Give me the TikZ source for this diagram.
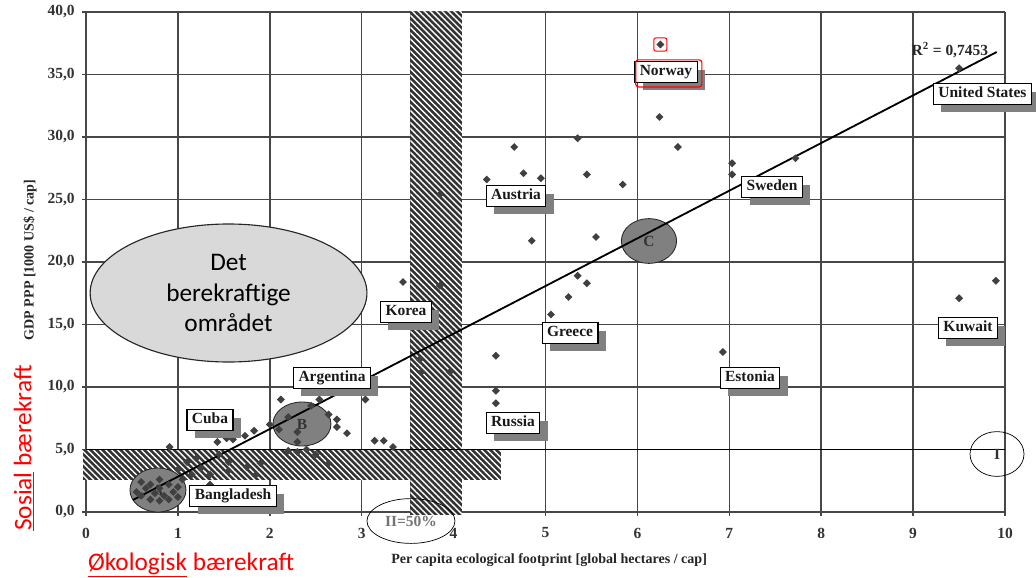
\documentclass[tikz,border=0pt]{standalone}
\usepackage{fontspec}
\setmainfont{Liberation Serif}
\newfontfamily\calibri{Carlito}
\usetikzlibrary{shapes.geometric,shadows,patterns.meta}

\begin{document}
\begin{tikzpicture}
	[x=2.2975cm,y=0.3125cm,
	grid line/.style={black!72,line width=1.1pt},
	hatch band/.style={fill=black!80,postaction={pattern={Lines[angle=-45,distance=3pt,line width=1pt]},pattern color=white}},
	tick label/.style={font=\fontsize{11}{13}\selectfont\bfseries,text=black!80,inner sep=0pt},
	axis title/.style={font=\fontsize{10}{12}\selectfont\bfseries,text=black!85},
	red title/.style={font=\calibri\fontsize{18}{22}\selectfont,text=red},
	country/.style={draw=black,line width=0.8pt,fill=white,text=black!90,font=\fontsize{11}{13}\selectfont\bfseries,inner xsep=3.5pt,inner ysep=2.5pt,text height=7.5pt,text depth=2pt,drop shadow={shadow xshift=5.5pt,shadow yshift=-5.5pt,fill=black!50,opacity=1}},
	zone/.style={ellipse,draw=black!85,fill=black!50,line width=0.6pt,inner sep=0pt,minimum width=1.4cm,minimum height=1.1cm,text=black!80,font=\fontsize{11}{13}\selectfont\bfseries},
	ring/.style={ellipse,draw=black,line width=0.5pt,inner sep=0pt,minimum height=1.12cm,font=\fontsize{11}{13}\selectfont\bfseries},
	gdp dot/.style={fill=black!75}]
	\useasboundingbox (-0.9358,-5.2) rectangle (10.3373,40.96);
	% grid and ticks
	\foreach \gx in {0,...,10}
		\draw[grid line] (\gx,-0.3) -- (\gx,40);
	\foreach \gy in {0,5,...,40}
		\draw[grid line] (-0.045,\gy) -- (10,\gy);
	\foreach \gy in {0,5,...,40}
		\node[tick label,anchor=east] (ytick\gy) at (-0.12,\gy) {\gy,0};
	\foreach \gx in {0,...,10}
		\node[tick label] (xtick\gx) at (\gx,-1.68) {\gx};
	% hatched limits
	\fill[hatch band] (-0.03,2.56) rectangle (4.52,5);
	\fill[hatch band] (3.53,-0.25) rectangle (4.09,40);
	\draw[black,line width=1.3pt] (0,5) -- (10,5);
	% zones
	\node[ellipse,draw=black!85,fill=black!15,line width=0.8pt,minimum width=6.92cm,minimum height=3.45cm,align=center,font=\calibri\fontsize{18}{22}\selectfont] (sustainable) at (1.551,17.52) {Det\\berekraftige\\området};
	\node[zone] (zoneA) at (0.783,1.76) {A};
	\node[zone,minimum width=1.45cm] (zoneB) at (2.35,7.04) {B};
	\node[zone,minimum width=1.38cm,minimum height=1.12cm] (zoneC) at (6.126,21.68) {C};
	% regression
	\coordinate (trendstart) at (0.51,0.96);
	\coordinate (trendend) at (9.91,36.8);
	\draw[black,line width=1.3pt] (trendstart) -- (trendend);
	\node[font=\fontsize{11}{13}\selectfont\bfseries,text=black!85] (rsq) at (9.40,36.96) {R\textsuperscript{2} = 0,7453};
	% countries
	\foreach \px/\py in {6.25/37.4,9.50/35.5,6.24/31.6,5.35/29.9,4.66/29.2,6.44/29.2,4.76/27.1,4.95/26.7,5.45/27.0,5.84/26.2,
		7.03/27.9,7.03/27.0,7.72/28.3,4.36/26.6,3.85/25.4,4.85/21.7,5.55/22.0,5.35/18.9,5.45/18.3,5.25/17.2,
		9.90/18.5,9.50/17.1,3.45/18.4,3.85/18.1,5.06/15.8,4.46/12.5,4.46/9.7,4.46/8.7,6.93/12.8,3.63/12.2,
		3.96/11.2,3.65/11.2,3.04/9.0,3.14/5.7,3.24/5.7,3.34/5.2,
		2.12/9.0,2.54/9.0,2.64/7.8,2.73/7.4,2.73/6.8,2.84/6.3,2.0/7.0,2.1/6.6,2.3/6.4,2.3/5.6,2.3/4.8,2.2/4.9,
		2.4/5.0,2.5/4.6,2.64/3.9,2.45/8.5,2.2/7.6,
		1.31/6.3,1.43/5.6,1.53/5.9,1.63/7.2,1.63/6.3,1.73/6.1,1.83/6.5,1.6/5.8,
		1.2/4.3,1.25/3.5,1.35/3.0,1.45/4.6,1.55/4.0,1.55/3.3,1.75/3.6,1.85/3.0,1.9/3.9,1.1/4.0,0.91/5.2,1.0/3.4,
		1.15/3.0,1.35/2.2,
		0.55/1.6,0.6/1.3,0.65/1.9,0.7/1.0,0.7/2.2,0.75/1.5,0.8/0.9,0.8/1.9,0.8/2.6,0.85/1.3,0.9/1.0,0.9/2.2,
		0.95/1.6,1.0/1.2,1.0/2.0,1.05/2.6,0.6/2.4}
		\fill[gdp dot] (\px,\py) +(0,2.8pt) -- +(2.8pt,0) -- +(0,-2.8pt) -- +(-2.8pt,0) -- cycle;
	\node[country] (norway) at (6.311,35.2) {Norway};
	\node[country,anchor=west] (usa) at (9.216,33.44) {United States};
	\node[country] (sweden) at (7.465,26.0) {Sweden};
	\node[country] (austria) at (4.679,25.28) {Austria};
	\node[country] (korea) at (3.482,16.0) {Korea};
	\node[country] (argentina) at (2.677,10.72) {Argentina};
	\node[country] (cuba) at (1.349,7.36) {Cuba};
	\node[country] (bangladesh) at (1.600,1.28) {Bangladesh};
	\node[country] (russia) at (4.646,7.12) {Russia};
	\node[country] (greece) at (5.267,14.32) {Greece};
	\node[country] (estonia) at (7.225,10.72) {Estonia};
	\node[country] (kuwait) at (9.597,14.72) {Kuwait};
	% red marks on Norway
	\coordinate (normark) at (6.25,37.4);
	\node[draw=red,rounded corners=1.5pt,line width=0.7pt,minimum size=0.33cm,inner sep=0pt] (redmark) at (normark) {};
	\draw[red,rounded corners=2pt,line width=0.8pt] ([xshift=1pt,yshift=1pt]norway.north west) rectangle ([xshift=3pt,yshift=-3pt]norway.south east);
	% halves
	\node[ring,minimum width=2.2cm,text=black!55] (half) at (3.536,-0.72) {II=50\%};
	\node[ring,minimum width=1.35cm,text=black!80] (one) at (9.913,4.64) {I};
	% titles
	\node[axis title] (xtitle) at (5.04,-3.84) {Per capita ecological footprint [global hectares / cap]};
	\node[axis title,rotate=90] (ytitle) at (-0.609,20.16) {GDP PPP [1000 US\$ / cap]};
	\node[red title,rotate=90] (sosial) at (-0.675,5.12) {\underline{Sosial} bærekraft};
	\node[red title] (okologisk) at (1.143,-4.24) {\underline{Økologisk} bærekraft};
\end{tikzpicture}
\end{document}
